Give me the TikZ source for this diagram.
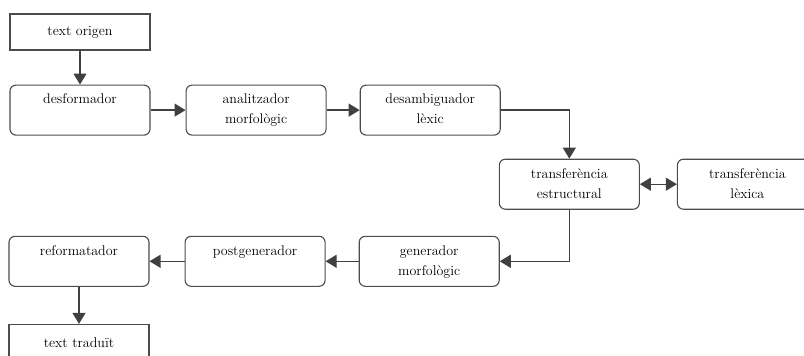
\documentclass[tikz,border=0pt]{standalone}
\usepackage{tikz}
\usetikzlibrary{positioning}
\usetikzlibrary{arrows.meta}
\definecolor{boxgray}{gray}{.30}
\definecolor{linegray}{gray}{.25}
\newcommand{\widthbox}{140pt}
\newcommand{\heightbox}{50pt}
\newcommand{\gapbox}{35pt}
\newcommand{\boxtext}[1]{\parbox[c][32pt][t]{130pt}{\centering #1}}
\tikzset{
    common/.style={draw=boxgray, line width=1.1pt, minimum width=\widthbox, inner xsep=5pt,
        font=\fontsize{14}{20}\selectfont},
    io/.style={common, rectangle, minimum height=36pt},
    stage/.style={common, rounded corners=6pt, minimum height=\heightbox, inner ysep=9pt},
    flow/.style={draw=linegray, line width=1.3pt, -{Triangle[length=11pt, width=13pt]}},
    both/.style={flow, {Triangle[length=11pt, width=13pt]}-{Triangle[length=11pt, width=13pt]}},
}
\begin{document}
\begin{tikzpicture}[x=1pt, y=1pt, node distance=\gapbox]
    \useasboundingbox (0,0) rectangle (804,-356);

    \node[io] (origen) at (80,-32) {text origen};
    \node[stage, below=34pt of origen] (desformador) {\boxtext{desformador}};
    \node[stage, right=of desformador] (analitzador) {\boxtext{analitzador\\morfològic}};
    \node[stage, right=33pt of analitzador] (desambiguador) {\boxtext{desambiguador\\lèxic}};
    \node[stage, below right=23pt and -2pt of desambiguador] (estructural) {\boxtext{transferència\\estructural}};
    \node[stage, right=37pt of estructural] (lexica) {\boxtext{transferència\\lèxica}};
    \node[stage, below left=26pt and -1pt of estructural] (generador) {\boxtext{generador\\morfològic}};
    \node[stage, left=33pt of generador] (postgenerador) {\boxtext{postgenerador}};
    \node[stage, left=of postgenerador] (reformatador) {\boxtext{reformatador}};
    \node[io, below=37pt of reformatador] (traduit) {text traduït};

    \draw[flow] (origen) -- (desformador);
    \draw[flow] (desformador) -- (analitzador);
    \draw[flow] (analitzador) -- (desambiguador);
    \draw[flow] (desambiguador) -| (estructural);
    \draw[both] (estructural) -- (lexica);
    \draw[flow] (estructural) |- (generador);
    \draw[flow] (generador) -- (postgenerador);
    \draw[flow] (postgenerador) -- (reformatador);
    \draw[flow] (reformatador) -- (traduit);
\end{tikzpicture}
\end{document}
